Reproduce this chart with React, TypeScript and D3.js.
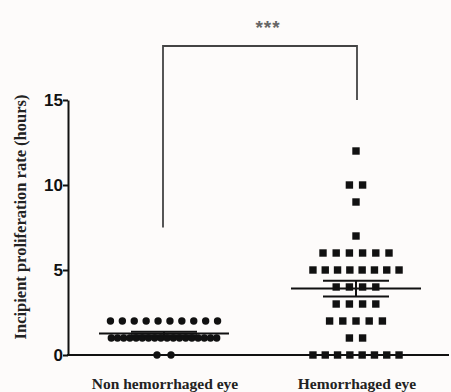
import React, { useEffect, useRef } from "react";
import * as d3 from "d3";

const groups = ["Non hemorrhaged eye", "Hemorrhaged eye"];
const nonHemorrhaged = [
  2, 2, 2, 2, 2, 2, 2, 2, 2, 2,
  1, 1, 1, 1, 1, 1, 1, 1, 1, 1, 1, 1, 1, 1, 1, 1, 1, 1,
  0, 0,
];
const hemorrhaged = [
  12, 10, 10, 9, 7,
  6, 6, 6, 6, 6, 6,
  5, 5, 5, 5, 5, 5, 5, 5,
  4, 4, 4, 4,
  3, 3, 3, 3,
  2, 2, 2, 2, 2,
  1, 1,
  0, 0, 0, 0, 0, 0, 0, 0,
];
const yTicks = [0, 5, 10, 15];

const W = 451;
const H = 392;

const App = () => {
  const ref = useRef<SVGSVGElement>(null);

  useEffect(() => {
    const svg = d3.select(ref.current);
    svg.selectAll("*").remove();

    const margin = { top: 100, left: 68, bottom: 37 };
    const y = d3.scaleLinear().domain([0, 15]).range([H - margin.bottom, margin.top]);
    const x = d3.scaleBand().domain(groups).range([margin.left, 452]);
    const cx = (g: string) => (x(g) as number) + x.bandwidth() / 2;

    svg.append("rect").attr("width", W).attr("height", H).attr("fill", "#fdfbfa");

    // points, spread horizontally per value
    const layout = (vals: number[], spacing: (n: number) => number) => {
      const counts = d3.rollup(vals, v => v.length, d => d);
      const seen = new Map<number, number>();
      return vals.map(v => {
        const n = counts.get(v) as number;
        const i = seen.get(v) || 0;
        seen.set(v, i + 1);
        return { v, dx: (i - (n - 1) / 2) * spacing(n) };
      });
    };

    const g1 = layout(nonHemorrhaged, n => (n > 12 ? 6.2 : n > 2 ? 11.9 : 14));
    const g2 = layout(hemorrhaged, n => (n > 6 ? 12.3 : 13.2));

    svg.append("g").selectAll("circle")
      .data(g1)
      .enter()
      .append("circle")
      .attr("cx", d => cx(groups[0]) + d.dx)
      .attr("cy", d => y(d.v))
      .attr("r", 3.7)
      .attr("fill", "#111");

    svg.append("g").selectAll("rect")
      .data(g2)
      .enter()
      .append("rect")
      .attr("x", d => cx(groups[1]) + d.dx - 3.7)
      .attr("y", d => y(d.v) - 3.7)
      .attr("width", 7.4)
      .attr("height", 7.4)
      .attr("fill", "#111");

    // mean +- SEM
    [nonHemorrhaged, hemorrhaged].forEach((vals, i) => {
      const m = d3.mean(vals) as number;
      const sem = (d3.deviation(vals) as number) / Math.sqrt(vals.length);
      const c = cx(groups[i]);
      const st = svg.append("g").attr("stroke", "#111").attr("stroke-width", 2);
      st.append("line").attr("x1", c - 65).attr("x2", c + 65).attr("y1", y(m)).attr("y2", y(m));
      [m - sem, m + sem].forEach(v => {
        st.append("line").attr("x1", c - 33).attr("x2", c + 33).attr("y1", y(v)).attr("y2", y(v));
      });
      st.append("line").attr("x1", c).attr("x2", c).attr("y1", y(m - sem)).attr("y2", y(m + sem));
    });

    // axes
    const yAxis = svg.append("g")
      .attr("transform", `translate(${margin.left},0)`)
      .call(d3.axisLeft(y).tickValues(yTicks).tickSize(5).tickSizeOuter(0));
    yAxis.select(".domain").attr("stroke", "#111").attr("stroke-width", 2);
    yAxis.selectAll(".tick line").attr("stroke", "#111").attr("stroke-width", 2);
    yAxis.selectAll(".tick text")
      .attr("font-family", "Liberation Sans, Arial, sans-serif")
      .attr("font-weight", "bold")
      .attr("font-size", 17)
      .attr("fill", "#111")
      .attr("x", -5);

    svg.append("line")
      .attr("x1", margin.left - 1).attr("x2", 449)
      .attr("y1", y(0)).attr("y2", y(0))
      .attr("stroke", "#111").attr("stroke-width", 2);

    svg.append("g").selectAll("text")
      .data(groups)
      .enter()
      .append("text")
      .attr("x", d => cx(d) + 1)
      .attr("y", 389)
      .attr("text-anchor", "middle")
      .attr("font-family", "Liberation Serif, Times New Roman, serif")
      .attr("font-weight", "bold")
      .attr("font-size", 15.5)
      .attr("fill", "#222")
      .text(d => d);

    svg.append("text")
      .attr("transform", `translate(26,${217}) rotate(-90)`)
      .attr("text-anchor", "middle")
      .attr("font-family", "Liberation Serif, Times New Roman, serif")
      .attr("font-weight", "bold")
      .attr("font-size", 16.5)
      .attr("fill", "#222")
      .text("Incipient proliferation rate (hours)");

    // significance bracket
    const bx1 = cx(groups[0]) - 1;
    const bx2 = cx(groups[1]) + 1;
    svg.append("path")
      .attr("d", `M${bx1},${y(7.5)}V46H${bx2}V${y(15)}`)
      .attr("fill", "none")
      .attr("stroke", "#444")
      .attr("stroke-width", 1.8);
    svg.append("text")
      .attr("x", 268)
      .attr("y", 34)
      .attr("text-anchor", "middle")
      .attr("font-family", "Liberation Sans, Arial, sans-serif")
      .attr("font-weight", "bold")
      .attr("font-size", 19)
      .attr("letter-spacing", 1)
      .attr("fill", "#666")
      .text("***");
  }, []);

  return <svg ref={ref} width={W} height={H} style={{ position: "absolute", left: 0, top: 0 }} />;
};

export default App;
